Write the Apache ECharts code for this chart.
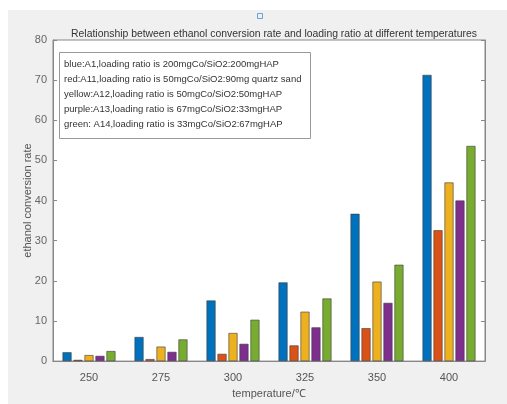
<!DOCTYPE html>
<html><head><meta charset="utf-8">
<script src="https://cdn.jsdelivr.net/npm/echarts@6/dist/echarts.min.js"></script>
<style>html,body{margin:0;padding:0;background:#fff}#c{width:507px;height:404px}</style>
</head><body><div id="c"></div>
<script>
const categories = ['250','275','300','325','350','400'];
const seriesNames = ['A1','A11','A12','A13','A14'];
const A1  = [2.2, 6.0, 15.1, 19.6, 36.7, 71.3];
const A11 = [0.3, 0.5, 1.8, 3.9, 8.2, 32.6];
const A12 = [1.5, 3.6, 7.0, 12.3, 19.8, 44.5];
const A13 = [1.3, 2.3, 4.3, 8.4, 14.5, 40.0];
const A14 = [2.5, 5.4, 10.3, 15.6, 24.0, 53.6];
const yTicks = [0,10,20,30,40,50,60,70,80];
const legendLines = [
 'blue:A1,loading ratio is 200mgCo/SiO2:200mgHAP',
 'red:A11,loading ratio is 50mgCo/SiO2:90mg quartz sand',
 'yellow:A12,loading ratio is 50mgCo/SiO2:50mgHAP',
 'purple:A13,loading ratio is 67mgCo/SiO2:33mgHAP',
 'green: A14,loading ratio is 33mgCo/SiO2:67mgHAP'
];
const colors = ['#0072BD','#D95319','#EDB120','#7E2F8E','#77AC30'];
const values = [A1,A11,A12,A13,A14];
const font = 'Liberation Sans';
const chart = echarts.init(document.getElementById('c'));
const grid = {left:53, right:22, top:40, bottom:35};
chart.setOption({
  backgroundColor:'#fff',
  animation:false,
  title:{text:'Relationship between ethanol conversion rate and loading ratio at different temperatures',
    left:269, textAlign:'center', top:24, textStyle:{fontFamily:font,fontSize:10.4,fontWeight:'normal',color:'#333'}},
  grid: Object.assign({backgroundColor:'#fff', show:true, borderColor:'#888', borderWidth:1}, grid),
  xAxis:[{type:'category', data:categories, name:'temperature/℃', nameLocation:'middle', nameGap:21,
    nameTextStyle:{fontFamily:font,fontSize:11,color:'#555'},
    axisLine:{lineStyle:{color:'#888'}}, axisTick:{inside:true, alignWithLabel:true, length:4, lineStyle:{color:'#888'}},
    axisLabel:{fontFamily:font,fontSize:11,color:'#555',margin:11}},
   {type:'category', data:categories, position:'top', axisLine:{lineStyle:{color:'#888'}},
    axisTick:{inside:true, alignWithLabel:true, length:4, lineStyle:{color:'#888'}}, axisLabel:{show:false}}],
  yAxis:[{type:'value', min:yTicks[0], max:yTicks[yTicks.length-1], interval:10,
    name:'ethanol conversion rate', nameLocation:'middle', nameGap:20, nameMoveOverlap:false,
    nameTextStyle:{fontFamily:font,fontSize:11,color:'#555'},
    axisLine:{show:true,lineStyle:{color:'#888'}}, axisTick:{show:true,inside:true,length:4,lineStyle:{color:'#888'}},
    splitLine:{show:false}, axisLabel:{fontFamily:font,fontSize:11,color:'#666',margin:6}},
   {type:'value', min:yTicks[0], max:yTicks[yTicks.length-1], interval:10, position:'right',
    axisLine:{show:true,lineStyle:{color:'#888'}}, axisTick:{show:true,inside:true,length:4,lineStyle:{color:'#888'}},
    splitLine:{show:false}, axisLabel:{show:false}}],
  series: values.map((v,i)=>({name:seriesNames[i], type:'bar', data:v, barWidth:9, barGap:'22%',
    itemStyle:{color:colors[i], borderColor:'#3a3a3a', borderWidth:0.6}})),
  graphic:[
    {type:'rect', left:8, top:10, shape:{width:499,height:394}, style:{fill:'#f0f0f0'}, z:-10, silent:true},
    {type:'rect', left:59, top:52, shape:{width:251,height:86}, style:{fill:'#fff',stroke:'#999',lineWidth:1}, z:10},
    {type:'text', left:64, top:57, z:11, style:{text:legendLines.join('\n'), font:'9.5px "Liberation Sans"', lineHeight:15, fill:'#333'}},
    {type:'rect', left:255, top:11, shape:{width:5,height:5}, style:{fill:'none',stroke:'#6a9fd8',lineWidth:1}, z:10}
  ]
});
</script></body></html>
